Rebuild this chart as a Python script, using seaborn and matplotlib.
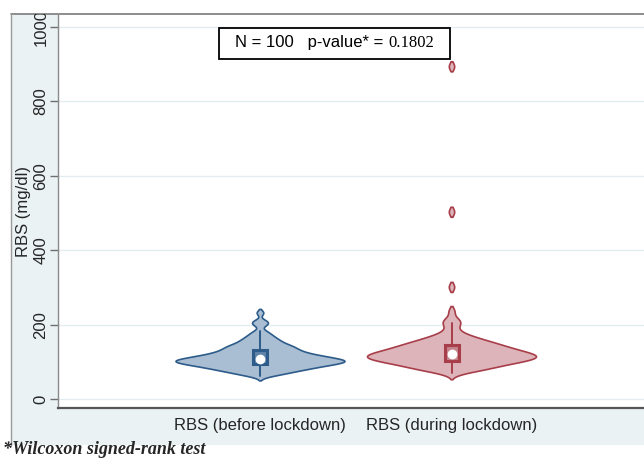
import numpy as np
import pandas as pd
import matplotlib
matplotlib.use("Agg")
import matplotlib.pyplot as plt
import matplotlib.cbook as cbook
import seaborn as sns
from matplotlib.patches import Rectangle
from matplotlib.lines import Line2D
from matplotlib.collections import PolyCollection
from matplotlib.offsetbox import TextArea, HPacker, AnnotationBbox, DrawingArea
from matplotlib.transforms import Bbox, TransformedBbox

# ---------------- data ----------------
categories = ["RBS (before lockdown)", "RBS (during lockdown)"]

rbs_before = [62,
              65, 68, 70,
              71, 73, 75, 76, 78, 79,
              80, 81, 82, 83, 84, 85, 86, 87, 88, 89,
              90, 91, 91, 92, 93, 93, 94, 95, 95, 96, 97, 97, 98, 99,
              100, 100, 101, 101, 102, 102, 103, 103, 104, 104, 105, 105, 106, 107, 107, 108, 109,
              110, 110, 111, 112, 112, 113, 114, 115, 116, 116, 117, 118, 119,
              120, 121, 122, 123, 124, 126, 127, 128, 129,
              130, 132, 133, 135, 136, 138, 139,
              140, 142, 144, 145, 147, 149,
              151, 154, 156, 159,
              161, 165, 168,
              172, 177,
              183,
              199, 205, 210,
              232]

rbs_during = [70,
              73, 75, 77, 79,
              80, 82, 83, 85, 86, 88, 89,
              90, 91, 93, 94, 95, 96, 97, 98, 99,
              100, 101, 101, 102, 103, 104, 104, 105, 106, 107, 107, 108, 109,
              110, 110, 111, 112, 112, 113, 114, 114, 115, 116, 116, 117, 118, 118, 119,
              120, 121, 121, 122, 123, 124, 125, 125, 126, 127, 128, 129,
              130, 131, 132, 133, 134, 135, 136, 137, 138, 139,
              140, 141, 143, 144, 145, 147, 148, 149,
              150, 152, 154, 155, 157, 159,
              161, 163, 166, 169,
              172, 177,
              185,
              196,
              203, 208,
              215,
              235,
              300, 502, 893]

y_ticks = [0, 200, 400, 600, 800, 1000]
n_label = "N = 100   p-value* = "
p_value = "0.1802"
footnote = "*Wilcoxon signed-rank test"

# ---------------- style ----------------
sns.set_theme(style="white")
plt.rcParams['font.family'] = ['Liberation Sans', 'DejaVu Sans']

W, H = 644, 459
fig = plt.figure(figsize=(W / 100, H / 100), dpi=100)
fig.patch.set_facecolor("white")

# Stata-like graph region band
fig.patches.append(Rectangle((11 / W, 1 - 445 / H), 1 - 11 / W, (445 - 14) / H,
                             transform=fig.transFigure, facecolor="#EAF2F4",
                             edgecolor="none", zorder=-10))
fig.add_artist(Line2D([11 / W, 1], [1 - 14 / H] * 2, color="#7c7c7c", lw=1.2, zorder=-5))
fig.add_artist(Line2D([11 / W] * 2, [1 - 14 / H, 1 - 445 / H], color="#9a9a9a", lw=1.0, zorder=-5))

ax = fig.add_axes([58 / W, 1 - 408 / H, 1 - 58 / W, (408 - 15) / H])
ax.set_zorder(2)
ax.set_facecolor("white")

df = pd.DataFrame({
    "group": [categories[0]] * len(rbs_before) + [categories[1]] * len(rbs_during),
    "RBS": rbs_before + rbs_during,
})

styles = [
    dict(fill="#A9BED2", edge="#2D5B8A", box="#5F82A8", bw=6.5),
    dict(fill="#DDB4B9", edge="#A83E4A", box="#C4848C", bw=9.5),
]
EPS = 0.005   # drop vanishing density tails so isolated values show as separate spikes


def split_violin(coll, pos, eps):
    """Split the seaborn violin polygon where its width vanishes."""
    v = coll.get_paths()[0].vertices
    ys, inv = np.unique(np.round(v[:, 1], 6), return_inverse=True)
    hw = np.zeros(len(ys))
    np.maximum.at(hw, inv, np.abs(v[:, 0] - pos))
    keep = hw > eps
    polys = []
    idx = np.flatnonzero(keep)
    if len(idx):
        breaks = np.flatnonzero(np.diff(idx) > 1)
        for seg in np.split(idx, breaks + 1):
            yy, ww = ys[seg], hw[seg]
            right = np.column_stack([pos + ww, yy])
            left = np.column_stack([pos - ww, yy])[::-1]
            polys.append(np.vstack([right, left]))
    new = PolyCollection(polys, facecolors=coll.get_facecolor(),
                         edgecolors=coll.get_edgecolor(),
                         linewidths=coll.get_linewidth(), zorder=coll.get_zorder())
    coll.remove()
    ax.add_collection(new)


for i, (cat, vals, st) in enumerate(zip(categories, [rbs_before, rbs_during], styles)):
    sub = df[df["group"] == cat]
    n_before = len(ax.collections)
    sns.violinplot(data=sub, x="group", y="RBS", order=categories,
                   color=st["fill"], linecolor=st["edge"], linewidth=1.2,
                   saturation=1, inner=None, density_norm="width", width=0.88,
                   cut=3, gridsize=4000, bw_method=st["bw"] / np.std(vals, ddof=1), ax=ax)
    for coll in list(ax.collections[n_before:]):
        split_violin(coll, i, EPS)

# inner box / whiskers / median
box_w = 0.075
for i, (vals, st) in enumerate(zip([rbs_before, rbs_during], styles)):
    s = cbook.boxplot_stats(np.asarray(vals, dtype=float))[0]
    ax.plot([i, i], [s["whislo"], s["q1"]], color=st["edge"], lw=1.4, zorder=3)
    ax.plot([i, i], [s["q3"], s["whishi"]], color=st["edge"], lw=1.4, zorder=3)
    ax.add_patch(Rectangle((i - box_w / 2, s["q1"]), box_w, s["q3"] - s["q1"],
                           facecolor=st["box"], edgecolor=st["edge"], lw=2.2, zorder=4))
    ax.plot([i], [s["med"]], marker="o", color="white", ms=6.0, mec="white", zorder=5)

ax.set_xlim(-1.052, 2.0)
ax.set_ylim(-24.2, 1032.3)
ax.set_yticks(y_ticks)
ax.set_yticklabels([str(t) for t in y_ticks])
ax.yaxis.grid(True, color="#E2ECF1", lw=1.0)
ax.xaxis.grid(False)
ax.set_axisbelow(True)

ax.tick_params(axis="y", direction="out", length=6, width=1, color="#707070",
               labelsize=12, pad=0.8, left=True)
ax.tick_params(axis="x", length=0, labelsize=12, pad=7)
for lbl in ax.get_yticklabels():
    lbl.set_rotation(90)
    lbl.set_va("center")
    lbl.set_ha("right")

for side in ["top", "right"]:
    ax.spines[side].set_visible(False)
ax.spines["left"].set_color("#8a8a8a")
ax.spines["left"].set_linewidth(1.0)
ax.spines["bottom"].set_color("#555555")
ax.spines["bottom"].set_linewidth(1.6)

ax.set_xlabel("")
ax.set_ylabel("RBS (mg/dl)", fontsize=12)
ax.yaxis.set_label_coords(-0.046, 0.5)

# annotation box with mixed fonts
t1 = TextArea(n_label, textprops=dict(family="Liberation Sans", size=12, color="black"))
t2 = TextArea(p_value, textprops=dict(family="Liberation Serif", size=12, color="black"))
pack = HPacker(children=[DrawingArea(6, 1), t1, t2, DrawingArea(6, 1)],
               align="baseline", pad=0, sep=0)
ab = AnnotationBbox(pack, (0.388, 956), xycoords="data", frameon=True, pad=0.48,
                    box_alignment=(0.5, 0.5),
                    bboxprops=dict(edgecolor="black", facecolor="white", lw=1.3))
ax.add_artist(ab)

fig.text(3 / W, 5 / H, footnote, family="Liberation Serif", weight="bold",
         style="italic", size=13, va="baseline", ha="left")

# clip the y tick labels at the top frame line (as in the cropped original)
fig.canvas.draw()
clip = TransformedBbox(Bbox.from_extents(0, 0, 1, 1 - 14 / H), fig.transFigure)
for tk in ax.yaxis.get_major_ticks():
    tk.label1.set_clip_box(clip)
    tk.label1.set_clip_on(True)

fig.savefig("out.png", dpi=100, facecolor="white")
